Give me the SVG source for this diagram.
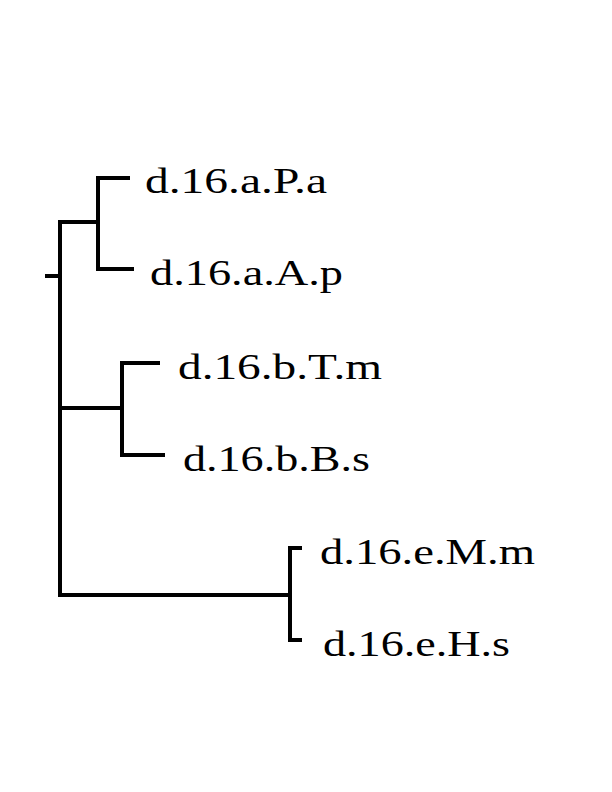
<svg xmlns="http://www.w3.org/2000/svg" width="612" height="792" viewBox="0 0 612 792">
<style>
.e{stroke:#000;stroke-width:4;fill:none;stroke-linecap:square}
text{font-family:"Liberation Serif",serif;font-size:36px;fill:#000}
</style>
<rect width="612" height="792" fill="#fff"/>
<g id="connectors">
<path class="e" d="M47 276H60M60 222V595M60 222H98M98 178V269M98 178H128M98 269H132M60 408H122M122 363V455M122 363H158M122 455H163M60 595H290M290 548V640M290 548H300M290 640H300"/>
</g>
<g id="n1"><text x="145" y="193" textLength="182" lengthAdjust="spacingAndGlyphs">d.16.a.P.a</text></g>
<g id="n2"><text x="150" y="285" textLength="193" lengthAdjust="spacingAndGlyphs">d.16.a.A.p</text></g>
<g id="n3"><text x="178" y="379" textLength="204" lengthAdjust="spacingAndGlyphs">d.16.b.T.m</text></g>
<g id="n4"><text x="183" y="471" textLength="187" lengthAdjust="spacingAndGlyphs">d.16.b.B.s</text></g>
<g id="n5"><text x="320" y="564" textLength="215" lengthAdjust="spacingAndGlyphs">d.16.e.M.m</text></g>
<g id="n6"><text x="323" y="656" textLength="187" lengthAdjust="spacingAndGlyphs">d.16.e.H.s</text></g>
</svg>
